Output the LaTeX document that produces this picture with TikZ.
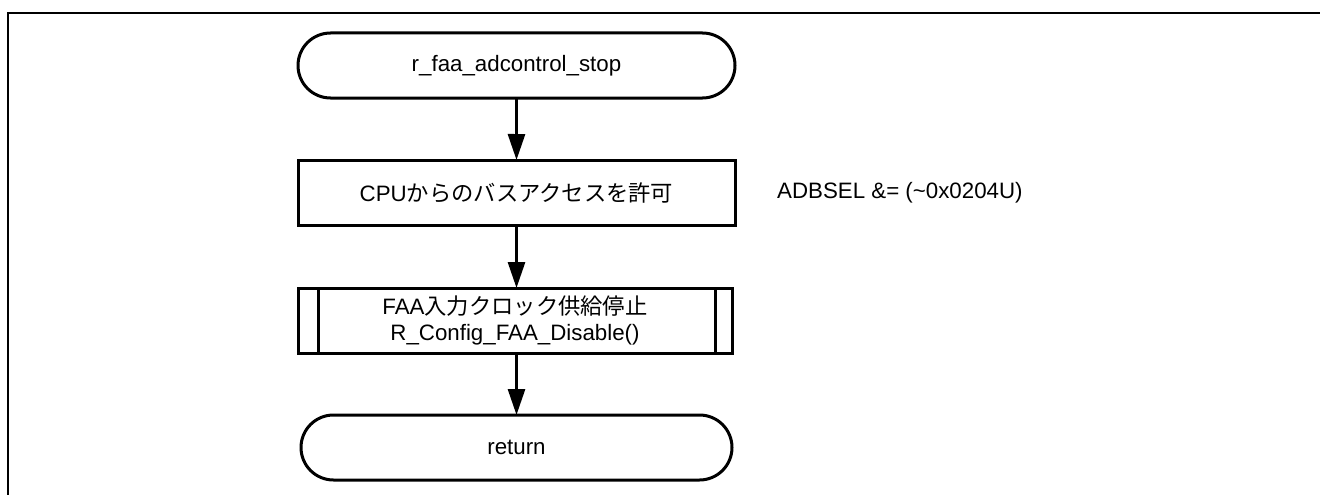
\documentclass[tikz,border=0pt]{standalone}
\usepackage{fontspec}
\setmainfont{Liberation Sans}
\newfontfamily\jp{Noto Sans CJK JP}
\usetikzlibrary{arrows.meta,shapes.misc}
\tikzset{
  frame/.style={draw=black, line width=2.6pt},
  term/.style={draw=black, line width=3pt, rounded rectangle, inner sep=0pt, outer sep=0pt,
    minimum width=437pt, minimum height=65pt},
  proc/.style={draw=black, line width=3pt, rectangle, inner sep=0pt, outer sep=0pt,
    minimum width=437pt, minimum height=65pt},
  subproc/.style={proc, minimum width=434pt, align=center},
  note/.style={anchor=west, inner sep=0pt},
  flow/.style={draw=black, line width=2.8pt, -{Triangle[length=26pt,width=17pt]}},
}
\begin{document}
\begin{tikzpicture}[x=1pt,y=-1pt,font=\fontsize{22.3}{26}\selectfont]
\useasboundingbox (0,0) rectangle (1320,495);
\clip (0,0) rectangle (1320,495);
% outer frame (continues past the page edges)
\draw[frame] (8,13) rectangle (1345,520);

% flowchart steps
\node[term] (start) at (516.5,65.5) {r\_faa\_adcontrol\_stop};
\node[proc] (allow) at (516.5,192.5) {CPU{\jp からのバスアクセスを許可}};
\node[subproc] (faa) at (515,320.5) {FAA{\jp 入力クロック供給停止}\\R\_Config\_FAA\_Disable()};
\node[term, minimum width=431pt] (ret) at (516.5,447.5) {return};

% side bars of the predefined-process box
\draw[line width=3pt] ([xshift=20pt]faa.north west) -- ([xshift=20pt]faa.south west);
\draw[line width=3pt] ([xshift=-17pt]faa.north east) -- ([xshift=-17pt]faa.south east);

% register operation
\node[note] (reg) at (777,192.5) {ADBSEL \&= (\textasciitilde 0x0204U)};

% connectors
\draw[flow] (start) -- (allow);
\draw[flow] (allow) -- (allow |- faa.north);
\draw[flow] (faa.south -| allow) -- (allow |- ret.north);
\end{tikzpicture}
\end{document}
